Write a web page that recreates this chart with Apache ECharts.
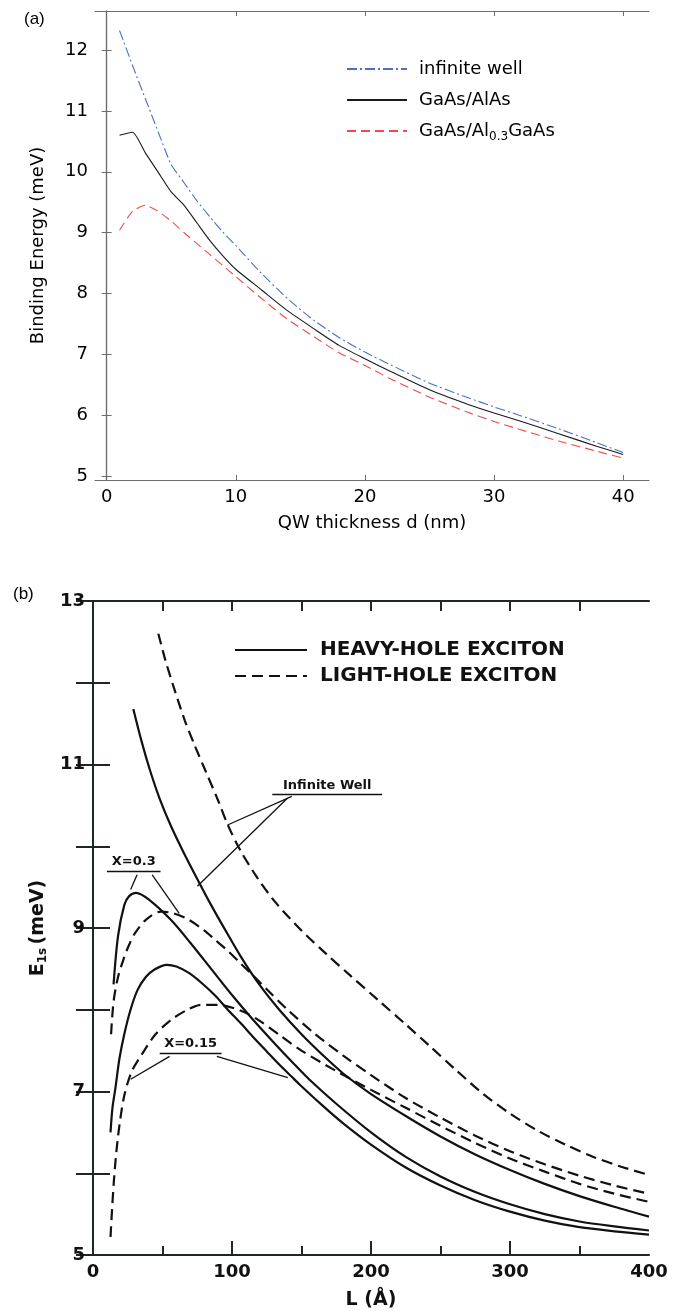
<!DOCTYPE html>
<html>
<head>
<meta charset="UTF-8">
<title>Exciton binding energy</title>
<script src="https://cdn.jsdelivr.net/npm/echarts@6/dist/echarts.min.js"></script>
<style>
  html, body { margin: 0; padding: 0; background: #fff; }
  #chart { width: 675px; height: 1311px; }
</style>
</head>
<body>
<div id="chart"></div>
<script>
// (a) binding energy vs QW thickness d (nm)
const dNm = [1, 2, 3, 4, 5, 6, 7, 8, 9, 10, 12, 14, 16, 18, 20, 22, 25, 28, 30, 32, 35, 38, 40];
const infWell = [12.32, 11.75, 11.2, 10.65, 10.12, 9.82, 9.52, 9.26, 9.01, 8.79, 8.33, 7.92, 7.57, 7.28, 7.04, 6.83, 6.53, 6.29, 6.14, 6.0, 5.78, 5.55, 5.39];
const gaasAlas = [10.6, 10.65, 10.31, 9.99, 9.67, 9.45, 9.16, 8.87, 8.62, 8.4, 8.06, 7.72, 7.43, 7.15, 6.93, 6.72, 6.42, 6.18, 6.04, 5.91, 5.7, 5.49, 5.36];
const gaasAl03 = [9.04, 9.35, 9.45, 9.35, 9.19, 9.0, 8.82, 8.64, 8.46, 8.28, 7.92, 7.58, 7.3, 7.03, 6.82, 6.6, 6.3, 6.05, 5.9, 5.77, 5.58, 5.41, 5.3];
const ticksA_x = [0, 10, 20, 30, 40];
const ticksA_y = [5, 6, 7, 8, 9, 10, 11, 12];

// (b) E1s vs well width L (Å)
const hhInfL = [29, 35, 41, 48, 56, 65, 75, 85, 95, 106, 120, 134, 150, 165, 180, 199, 225, 250, 275, 300, 325, 350, 375, 400];
const hhInfE = [11.68, 11.28, 10.93, 10.58, 10.25, 9.93, 9.6, 9.28, 8.98, 8.66, 8.3, 8.0, 7.7, 7.45, 7.22, 6.98, 6.7, 6.45, 6.23, 6.04, 5.87, 5.72, 5.59, 5.47];
const hh03L = [14.8, 18, 22.5, 26, 31, 40, 56, 70, 85, 100, 115, 130, 145, 156, 175, 200, 225, 250, 275, 300, 325, 350, 375, 400];
const hh03E = [8.31, 8.9, 9.28, 9.39, 9.43, 9.35, 9.1, 8.82, 8.5, 8.18, 7.88, 7.6, 7.33, 7.14, 6.85, 6.5, 6.2, 5.96, 5.77, 5.62, 5.5, 5.41, 5.35, 5.3];
const hh015L = [12.6, 14, 16.2, 19, 22.5, 27, 32, 38, 44, 53, 60, 69, 80, 88, 97, 106, 115, 125, 134, 143, 149, 165, 180, 200, 225, 250, 275, 300, 325, 350, 375, 400];
const hh015E = [6.5, 6.8, 7.05, 7.4, 7.7, 8.0, 8.24, 8.4, 8.49, 8.55, 8.53, 8.45, 8.3, 8.17, 8.0, 7.84, 7.67, 7.49, 7.33, 7.18, 7.08, 6.83, 6.61, 6.35, 6.07, 5.85, 5.67, 5.53, 5.42, 5.34, 5.29, 5.25];
const lhInfL = [47, 52, 58, 66, 73, 81, 90, 97, 106, 118, 131, 150, 168, 185, 205, 225, 242, 260, 280, 300, 320, 340, 360, 380, 400];
const lhInfE = [12.6, 12.28, 11.95, 11.54, 11.24, 10.92, 10.56, 10.26, 9.95, 9.62, 9.32, 8.97, 8.68, 8.42, 8.12, 7.82, 7.56, 7.28, 6.98, 6.73, 6.52, 6.35, 6.2, 6.08, 5.98];
const lh03L = [13, 14.8, 18, 22, 25.6, 30, 38, 48.8, 58, 69, 80, 87.5, 97, 106, 115, 125, 140, 160, 180, 200, 225, 250, 275, 300, 325, 350, 375, 400];
const lh03E = [7.7, 8.1, 8.4, 8.62, 8.78, 8.93, 9.1, 9.2, 9.18, 9.1, 8.97, 8.86, 8.72, 8.57, 8.42, 8.25, 8.0, 7.7, 7.44, 7.2, 6.92, 6.68, 6.46, 6.27, 6.11, 5.97, 5.85, 5.75];
const lh015L = [12.6, 15, 18, 22.5, 28, 35, 45, 56.5, 68, 78, 90, 106, 118.5, 135, 150, 175, 200, 225, 250, 275, 300, 325, 350, 375, 400];
const lh015E = [5.22, 5.9, 6.45, 6.95, 7.25, 7.45, 7.7, 7.88, 8.0, 8.06, 8.06, 7.99, 7.88, 7.68, 7.5, 7.25, 7.02, 6.8, 6.58, 6.37, 6.18, 6.02, 5.87, 5.75, 5.65];
const ticksB_x = [0, 100, 200, 300, 400];
const ticksB_y = [5, 7, 9, 11, 13];

const zip = (xs, ys) => xs.map((x, i) => [x, ys[i]]);

const chart = echarts.init(document.getElementById('chart'));

const fontA = 'DejaVu Sans, sans-serif';
const fontB = 'DejaVu Sans, sans-serif';
const frameA = { show: true, lineStyle: { color: '#6d6d6d', width: 1.2 } };
const frameB = { show: true, lineStyle: { color: '#1e2626', width: 2 } };
const HH = 'HEAVY-HOLE EXCITON', LH = 'LIGHT-HOLE EXCITON';
const dash = [11, 6];

function bLine(name, xs, ys, dashed, extra) {
  return Object.assign({
    name: name, type: 'line', xAxisIndex: 2, yAxisIndex: 2,
    data: zip(xs, ys), showSymbol: false, symbol: 'none', smooth: 0.3,
    lineStyle: { color: '#111', width: 2.2, type: dashed ? dash : 'solid' },
    itemStyle: { color: '#111' },
    z: 3
  }, extra || {});
}

// leader lines and underlines of the labels in (b), in data units
const leader = { lineStyle: { type: 'solid', width: 1.3, color: '#111' }, label: { show: false } };
function tag(text, x0, x1, y) {
  return [{ coord: [x0, y], label: { show: true, formatter: text, position: 'insideMiddleTop', distance: 3,
            fontFamily: fontB, fontWeight: 'bold', fontSize: 13, color: '#111' } },
          { coord: [x1, y] }];
}
function seg(x0, y0, x1, y1) { return [{ coord: [x0, y0] }, { coord: [x1, y1] }]; }

const option = {
  animation: false,
  backgroundColor: '#fff',
  grid: [
    { left: 95, top: 11, width: 554, height: 469 },
    { left: 93, top: 601, width: 556, height: 655 }
  ],
  graphic: [
    { type: 'text', left: 24, top: 11, style: { text: '(a)', font: '17px Liberation Sans, Arial, sans-serif', fill: '#000' } },
    { type: 'text', left: 13, top: 586, style: { text: '(b)', font: '17px Liberation Sans, Arial, sans-serif', fill: '#000' } }
  ],
  legend: [
    {
      data: ['infinite well', 'GaAs/AlAs', 'GaAs/Al0.3GaAs'],
      orient: 'vertical', left: 341, top: 55, itemWidth: 60, itemHeight: 14, itemGap: 13,
      itemStyle: { opacity: 0 },
      formatter: n => n === 'GaAs/Al0.3GaAs' ? 'GaAs/Al{sub|0.3}GaAs' : n,
      textStyle: { fontFamily: fontA, fontSize: 18, color: '#000', padding: [0, 0, 0, 7],
        rich: { sub: { fontFamily: fontA, fontSize: 12, padding: [12, 0, 0, 0] } } },
      selectedMode: false
    },
    {
      data: [HH, LH],
      orient: 'vertical', left: 229, top: 635, itemWidth: 72, itemHeight: 14, itemGap: 6,
      itemStyle: { opacity: 0 },
      textStyle: { fontFamily: fontB, fontSize: 20, fontWeight: 'bold', color: '#111', padding: [0, 0, 0, 8] },
      selectedMode: false
    }
  ],
  xAxis: [
    {
      gridIndex: 0, type: 'value', min: -0.9, max: 42, position: 'bottom',
      axisLine: frameA, splitLine: { show: false },
      axisTick: { inside: true, length: 5, customValues: ticksA_x, lineStyle: { color: '#6d6d6d' } },
      axisLabel: { customValues: ticksA_x, fontFamily: fontA, fontSize: 18, color: '#000', margin: 8 },
      name: 'QW thickness d (nm)', nameLocation: 'middle', nameGap: 34,
      nameTextStyle: { fontFamily: fontA, fontSize: 18, color: '#000' }
    },
    {
      gridIndex: 0, type: 'value', min: -0.9, max: 42, position: 'top',
      axisLine: frameA, splitLine: { show: false },
      axisTick: { inside: true, length: 5, customValues: ticksA_x, lineStyle: { color: '#6d6d6d' } },
      axisLabel: { show: false }
    },
    {
      gridIndex: 1, type: 'value', min: 0, max: 400, position: 'bottom',
      axisLine: frameB, splitLine: { show: false },
      axisTick: { inside: true, length: 14, customValues: [100, 200, 300], lineStyle: { color: '#1e2626', width: 2 } },
      axisLabel: { customValues: ticksB_x, fontFamily: fontB, fontWeight: 'bold', fontSize: 18, color: '#111', margin: 8 },
      name: 'L (Å)', nameLocation: 'middle', nameGap: 36,
      nameTextStyle: { fontFamily: fontB, fontWeight: 'bold', fontSize: 19, color: '#111' }
    },
    {
      gridIndex: 1, type: 'value', min: 0, max: 400, position: 'bottom',
      axisLine: { show: false }, splitLine: { show: false },
      axisTick: { inside: true, length: 9, customValues: [50, 150, 250, 350], lineStyle: { color: '#1e2626', width: 2 } },
      axisLabel: { show: false }
    },
    {
      gridIndex: 1, type: 'value', min: 0, max: 400, position: 'top',
      axisLine: frameB, splitLine: { show: false },
      axisTick: { inside: true, length: 10, customValues: [50, 100, 150, 200, 250, 300, 350], lineStyle: { color: '#1e2626', width: 2 } },
      axisLabel: { show: false }
    }
  ],
  yAxis: [
    {
      gridIndex: 0, type: 'value', min: 4.94, max: 12.64, position: 'left',
      axisLine: frameA, splitLine: { show: false },
      axisTick: { inside: true, length: 5, customValues: ticksA_y, lineStyle: { color: '#6d6d6d' } },
      axisLabel: { customValues: ticksA_y, fontFamily: fontA, fontSize: 18, color: '#000', margin: 7 },
      name: 'Binding Energy (meV)', nameLocation: 'middle', nameGap: 48,
      nameTextStyle: { fontFamily: fontA, fontSize: 18, color: '#000' }
    },
    {
      gridIndex: 0, type: 'value', min: 4.94, max: 12.64, position: 'right',
      axisLine: frameA, splitLine: { show: false },
      axisTick: { inside: true, length: 5, customValues: ticksA_y, lineStyle: { color: '#6d6d6d' } },
      axisLabel: { show: false }
    },
    {
      gridIndex: 1, type: 'value', min: 5, max: 13, position: 'left',
      axisLine: frameB, splitLine: { show: false },
      axisTick: { inside: true, length: 17, lineStyle: { color: '#1e2626', width: 2 },
        customValues: [5, 6, 7, 8, 9, 10, 11, 12, 13] },
      axisLabel: { customValues: ticksB_y, fontFamily: fontB, fontWeight: 'bold', fontSize: 18, color: '#111', margin: 8 },
      name: '{e|E}{s|1s} {e|(meV)}', nameLocation: 'middle', nameGap: 40,
      nameTextStyle: { rich: {
        e: { fontFamily: fontB, fontWeight: 'bold', fontSize: 19, color: '#111' },
        s: { fontFamily: fontB, fontWeight: 'bold', fontSize: 12, color: '#111', padding: [10, 0, 0, 0] }
      } }
    },
    {
      gridIndex: 1, type: 'value', min: 5, max: 13, position: 'right',
      axisLine: frameB, splitLine: { show: false },
      axisTick: { inside: true, length: 17, lineStyle: { color: '#1e2626', width: 2 },
        customValues: [5, 6, 7, 8, 9, 10, 11, 12, 13] },
      axisLabel: { show: false }
    }
  ],
  series: [
    { name: 'infinite well', type: 'line', xAxisIndex: 0, yAxisIndex: 0, data: zip(dNm, infWell),
      showSymbol: false, symbol: 'none', smooth: 0.2,
      itemStyle: { color: '#4a70c8' },
      lineStyle: { color: '#4a70c8', width: 1.1, type: [10, 3, 2, 3] } },
    { name: 'GaAs/AlAs', type: 'line', xAxisIndex: 0, yAxisIndex: 0, data: zip(dNm, gaasAlas),
      showSymbol: false, symbol: 'none', smooth: 0.2,
      itemStyle: { color: '#1a1a1a' },
      lineStyle: { color: '#1a1a1a', width: 1.1, type: 'solid' } },
    { name: 'GaAs/Al0.3GaAs', type: 'line', xAxisIndex: 0, yAxisIndex: 0, data: zip(dNm, gaasAl03),
      showSymbol: false, symbol: 'none', smooth: 0.2,
      itemStyle: { color: '#f04a4a' },
      lineStyle: { color: '#f04a4a', width: 1.1, type: [9, 5] } },

    bLine(HH, hhInfL, hhInfE, false, {
      markLine: Object.assign({ silent: true, symbol: 'none', animation: false, data: [
        tag('Infinite Well', 129, 208, 10.63),
        seg(143, 10.61, 96.8, 10.26),
        seg(140, 10.59, 75.1, 9.51),
        tag('X=0.3', 10, 48.6, 9.69),
        seg(31.7, 9.65, 27.1, 9.47),
        seg(42.6, 9.65, 62, 9.18),
        tag('X=0.15', 48, 92.5, 7.47),
        seg(55.1, 7.43, 27.1, 7.15),
        seg(89.1, 7.43, 140.2, 7.17)
      ] }, leader)
    }),
    bLine(HH, hh03L, hh03E, false),
    bLine(HH, hh015L, hh015E, false),
    bLine(LH, lhInfL, lhInfE, true),
    bLine(LH, lh03L, lh03E, true),
    bLine(LH, lh015L, lh015E, true)
  ]
};

chart.setOption(option);
</script>
</body>
</html>
